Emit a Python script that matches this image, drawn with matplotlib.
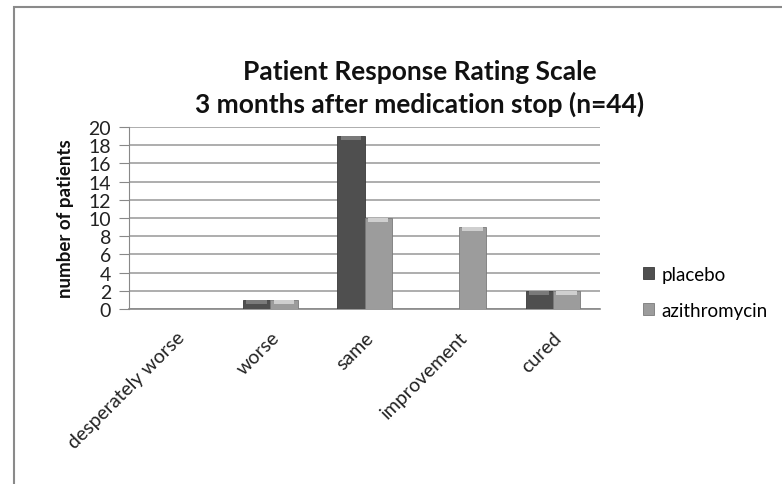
import matplotlib
matplotlib.use("Agg")
import matplotlib.pyplot as plt
import numpy as np
from matplotlib.patches import Rectangle

categories = ["desperately worse", "worse", "same", "improvement", "cured"]
placebo = [0, 1, 19, 0, 2]
azithromycin = [0, 1, 10, 9, 2]
series_names = ["placebo", "azithromycin"]
yticks = list(range(0, 21, 2))

plt.rcParams['font.family'] = ['Lato', 'DejaVu Sans']

fig = plt.figure(figsize=(7.82, 4.85), dpi=100)
fig.patches.append(Rectangle((14/782, -0.1), 1.2, 1 - 8/485 + 0.1, transform=fig.transFigure,
                             fill=False, edgecolor='#8a8a8a', linewidth=1.5))

ax = fig.add_axes([129/782, 1 - 310/485, 471/782, 182/485])
x = np.arange(len(categories))
w = 0.29

colors = ['#4f4f4f', '#9c9c9c']
hl = ['#7a7a7a', '#cfcfcf']
for i, (vals, c, h, name) in enumerate(zip([placebo, azithromycin], colors, hl, series_names)):
    xs = x + (i - 0.5) * w
    v = np.array(vals, dtype=float)
    ax.bar(xs, v, width=w, color=c, edgecolor='#3a3a3a' if i == 0 else '#7a7a7a',
           linewidth=0.6, label=name, zorder=3)
    mask = v > 0
    hh = np.minimum(v, 0.45)
    ax.bar(xs[mask], hh[mask], bottom=(v - hh)[mask], width=w * 0.75, color=h,
           linewidth=0, zorder=4)

ax.set_xlim(-0.5, len(categories) - 0.5)
ax.set_ylim(0, 20)
ax.set_yticks(yticks)
ax.set_yticklabels([str(t) for t in yticks], fontsize=14, color='#222222')
ax.yaxis.grid(True, color='#a0a0a0', linewidth=1.2, zorder=0)
ax.set_axisbelow(True)
ax.tick_params(axis='y', length=7, color='#888888', pad=6)
ax.tick_params(axis='x', length=0, pad=14)
for s in ['top', 'right']:
    ax.spines[s].set_visible(False)
ax.spines['left'].set_color('#888888')
ax.spines['bottom'].set_color('#888888')
ax.spines['bottom'].set_linewidth(1.2)

ax.set_xticks(x)
ax.set_xticklabels(categories, rotation=45, ha='right', rotation_mode='anchor',
                   fontsize=14, color='#222222')

ax.set_ylabel("number of patients", fontsize=13.5, fontweight='bold', labelpad=10, color='#111111')

fig.text(0.537, 1 - 72/485, "Patient Response Rating Scale", ha='center', va='center',
         fontsize=19, fontweight='bold', color='#111111')
fig.text(0.537, 1 - 104/485, "3 months after medication stop (n=44)", ha='center', va='center',
         fontsize=19, fontweight='bold', color='#111111')

leg = fig.legend(loc='upper left', bbox_to_anchor=(626/782, 1 - 250/485), frameon=False,
                 fontsize=13.5, handlelength=0.6, handleheight=0.6, handletextpad=0.4,
                 labelspacing=1.0)

fig.savefig("out.png", dpi=100)
